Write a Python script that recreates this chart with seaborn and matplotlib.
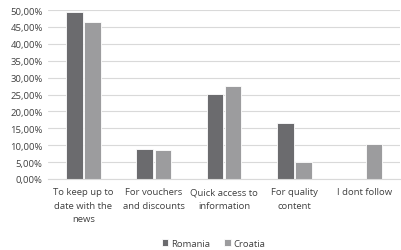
import matplotlib
matplotlib.use("Agg")
import matplotlib.pyplot as plt
import matplotlib.ticker as mticker
import pandas as pd
import seaborn as sns

# Values (percent)
categories = [
    "To keep up to\ndate with the\nnews",
    "For vouchers\nand discounts",
    "Quick access to\ninformation",
    "For quality\ncontent",
    "I dont follow",
]
romania = [49.5, 8.9, 25.2, 16.5, 0.0]
croatia = [46.6, 8.6, 27.6, 5.1, 10.4]
countries = ["Romania", "Croatia"]
colors = ["#6b6b6e", "#9c9c9e"]

df = pd.DataFrame({
    "category": categories * 2,
    "country": ["Romania"] * len(categories) + ["Croatia"] * len(categories),
    "value": romania + croatia,
})

sns.set_style("white")
plt.rcParams["font.family"] = ["Open Sans", "DejaVu Sans"]

fig = plt.figure(figsize=(4.02, 2.51), dpi=100)
ax = fig.add_axes([0.12, 0.283, 0.875, 0.673])

sns.barplot(
    data=df, x="category", y="value", hue="country",
    hue_order=countries, palette=colors, order=categories,
    width=0.52, gap=0.1, ax=ax, legend=True,
    edgecolor="white", linewidth=0.6,
)

ax.set_ylim(0, 50)
ax.yaxis.set_major_locator(mticker.MultipleLocator(5))
ax.yaxis.set_major_formatter(
    mticker.FuncFormatter(lambda v, _: f"{v:.2f}%".replace(".", ","))
)
ax.grid(axis="y", color="#d9d9d9", linewidth=0.8)
ax.set_axisbelow(True)
for s in ["top", "right", "left"]:
    ax.spines[s].set_visible(False)
ax.spines["bottom"].set_color("#d9d9d9")
ax.set_xlabel("")
ax.set_ylabel("")
ax.tick_params(axis="y", labelsize=6.8, colors="#404040", length=0, pad=4)
ax.tick_params(axis="x", labelsize=6.8, colors="#404040", length=0, pad=6)
for t in ax.get_xticklabels():
    t.set_linespacing(1.6)

ax.legend(
    loc="center", bbox_to_anchor=(0.47, -0.38), ncol=2, frameon=False,
    fontsize=6.8, handlelength=0.7, handleheight=0.7, handletextpad=0.3,
    columnspacing=1.5, labelcolor="#404040",
)

fig.savefig("out.png", dpi=100)
